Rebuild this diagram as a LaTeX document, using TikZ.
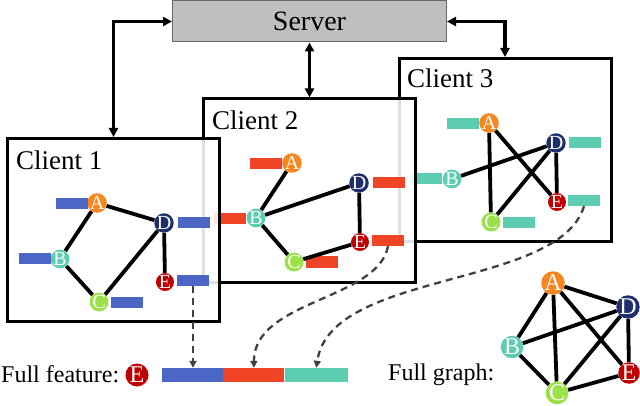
\documentclass[tikz,border=0pt]{standalone}
\usepackage{fontspec}
\setmainfont{Liberation Serif}
\usetikzlibrary{arrows.meta,positioning}

\definecolor{featblue}{RGB}{75,103,197}
\definecolor{featred}{RGB}{240,68,38}
\definecolor{featteal}{RGB}{92,205,176}
\definecolor{nodeA}{RGB}{247,134,31}
\definecolor{nodeB}{RGB}{92,205,176}
\definecolor{nodeC}{RGB}{155,226,74}
\definecolor{nodeD}{RGB}{31,47,110}
\definecolor{nodeE}{RGB}{192,0,0}

\tikzset{
  clientbox/.style={draw,line width=3pt,fill=white,fill opacity=.88,
    minimum width=212pt,minimum height=183pt,inner sep=0pt},
  clientlbl/.style={anchor=base west,inner sep=0pt,font=\rmfamily\fontsize{27}{27}\selectfont},
  vtx/.style={circle,fill=#1,text=white,inner sep=0pt,minimum size=17.5pt,
    font=\rmfamily\fontsize{20}{20}\selectfont},
  bigvtx/.style={vtx=#1,minimum size=20pt,font=\rmfamily\fontsize{24}{24}\selectfont},
  feat/.style={fill=#1,inner sep=0pt,minimum width=32pt,minimum height=11pt},
  fullfeat/.style={fill=#1,inner sep=0pt,minimum width=61pt,minimum height=14pt},
  link/.style={line width=3.8pt},
  sync/.style={line width=3.2pt,{Triangle[length=9pt,width=9pt]}-{Triangle[length=9pt,width=9pt]}},
  gather/.style={draw=black!75,line width=2.3pt,dash pattern=on 7pt off 5pt,
    -{Triangle[length=7pt,width=7pt]}}
}

\begin{document}
\begin{tikzpicture}[x=1pt,y=-1pt]
    \useasboundingbox (0,0) rectangle (640,406);

    \node[draw=black!60,line width=1pt,fill=black!25,minimum width=274pt,minimum height=41pt,
      font=\rmfamily\fontsize{28}{28}\selectfont] (server) at (309.5,21.5) {Server};

    % client 3
    \node[clientbox] (c3) at (505,150) {};
    \node[clientlbl] (c3lbl) at (407,88) {Client 3};
    \node[vtx=nodeA] (c3a) at (489,123) {A};
    \node[vtx=nodeB] (c3b) at (452,179) {B};
    \node[vtx=nodeC] (c3c) at (491,222) {C};
    \node[vtx=nodeD] (c3d) at (556,143) {D};
    \node[vtx=nodeE] (c3e) at (557,202) {E};
    \node[feat=featteal] (c3fa) at (462.5,123.5) {};
    \node[feat=featteal] (c3fb) at (426,179) {};
    \node[feat=featteal] (c3fc) at (518.5,222.5) {};
    \node[feat=featteal] (c3fd) at (585,142.5) {};
    \node[feat=featteal] (c3fe) at (584,200.5) {};
    \draw[link] (c3a) -- (c3c) (c3a) -- (c3e) (c3b) -- (c3d)
      (c3c) -- (c3d) (c3d) -- (c3e);

    % client 2
    \node[clientbox] (c2) at (309.5,190.5) {};
    \node[clientlbl] (c2lbl) at (212,130) {Client 2};
    \node[vtx=nodeA] (c2a) at (292,163) {A};
    \node[vtx=nodeB] (c2b) at (256,218) {B};
    \node[vtx=nodeC] (c2c) at (294,262) {C};
    \node[vtx=nodeD] (c2d) at (359,183) {D};
    \node[vtx=nodeE] (c2e) at (360,242) {E};
    \node[feat=featred] (c2fa) at (266,163.5) {};
    \node[feat=featred] (c2fb) at (229.5,218.5) {};
    \node[feat=featred] (c2fc) at (322,262) {};
    \node[feat=featred] (c2fd) at (388.5,182.5) {};
    \node[feat=featred] (c2fe) at (388,240.5) {};
    \draw[link] (c2a) -- (c2b) (c2b) -- (c2d) (c2b) -- (c2c)
      (c2d) -- (c2e) (c2c) -- (c2e);

    % client 1
    \node[clientbox] (c1) at (113.5,230) {};
    \node[clientlbl] (c1lbl) at (16,170) {Client 1};
    \node[vtx=nodeA] (c1a) at (97,203) {A};
    \node[vtx=nodeB] (c1b) at (60,259) {B};
    \node[vtx=nodeC] (c1c) at (99,302) {C};
    \node[vtx=nodeD] (c1d) at (164,223) {D};
    \node[vtx=nodeE] (c1e) at (165,282) {E};
    \node[feat=featblue] (c1fa) at (71.5,203.5) {};
    \node[feat=featblue] (c1fb) at (34.5,258.5) {};
    \node[feat=featblue] (c1fc) at (127,302) {};
    \node[feat=featblue] (c1fd) at (193.5,223) {};
    \node[feat=featblue] (c1fe) at (193,280.5) {};
    \draw[link] (c1a) -- (c1b) (c1a) -- (c1d) (c1b) -- (c1c)
      (c1c) -- (c1d) (c1d) -- (c1e);

    \draw[sync] (c1.north) |- (server.west);
    \draw[sync] (server.south) -- (c2.north);
    \draw[sync] (server.east) -| (c3.north);

    % full feature
    \node[anchor=base west,inner sep=0pt,font=\rmfamily\fontsize{24}{24}\selectfont] (fflbl) at (1,382) {Full feature:};
    \node[bigvtx=nodeE,minimum size=23pt] (ffe) at (137,375) {E};
    \node[fullfeat=featblue] (fullblue) at (192.5,375) {};
    \node[fullfeat=featred,right=0pt of fullblue] (fullred) {};
    \node[fullfeat=featteal,minimum width=63pt,right=0pt of fullred] (fullteal) {};

    \draw[gather] (c1fe.south) -- (c1fe.south |- fullblue.north);
    \draw[gather] (c2fe.south) .. controls +(-10,54) and +(0,-68) .. (fullred.north);
    \draw[gather] (c3fe.south) .. controls +(-25,83) and +(14,-98) .. (fullteal.north);

    % full graph
    \node[anchor=base west,inner sep=0pt,font=\rmfamily\fontsize{24}{24}\selectfont] (fglbl) at (388,380) {Full graph:};
    \node[bigvtx=nodeA] (fga) at (553,283) {A};
    \node[bigvtx=nodeB] (fgb) at (512,347) {B};
    \node[bigvtx=nodeC] (fgc) at (557,393) {C};
    \node[bigvtx=nodeD] (fgd) at (628,307) {D};
    \node[bigvtx=nodeE] (fge) at (629,373) {E};
    \draw[link] (fga) -- (fgb) (fga) -- (fgc) (fga) -- (fgd) (fga) -- (fge)
      (fgb) -- (fgc) (fgb) -- (fgd) (fgc) -- (fgd) (fgc) -- (fge) (fgd) -- (fge);
\end{tikzpicture}
\end{document}
